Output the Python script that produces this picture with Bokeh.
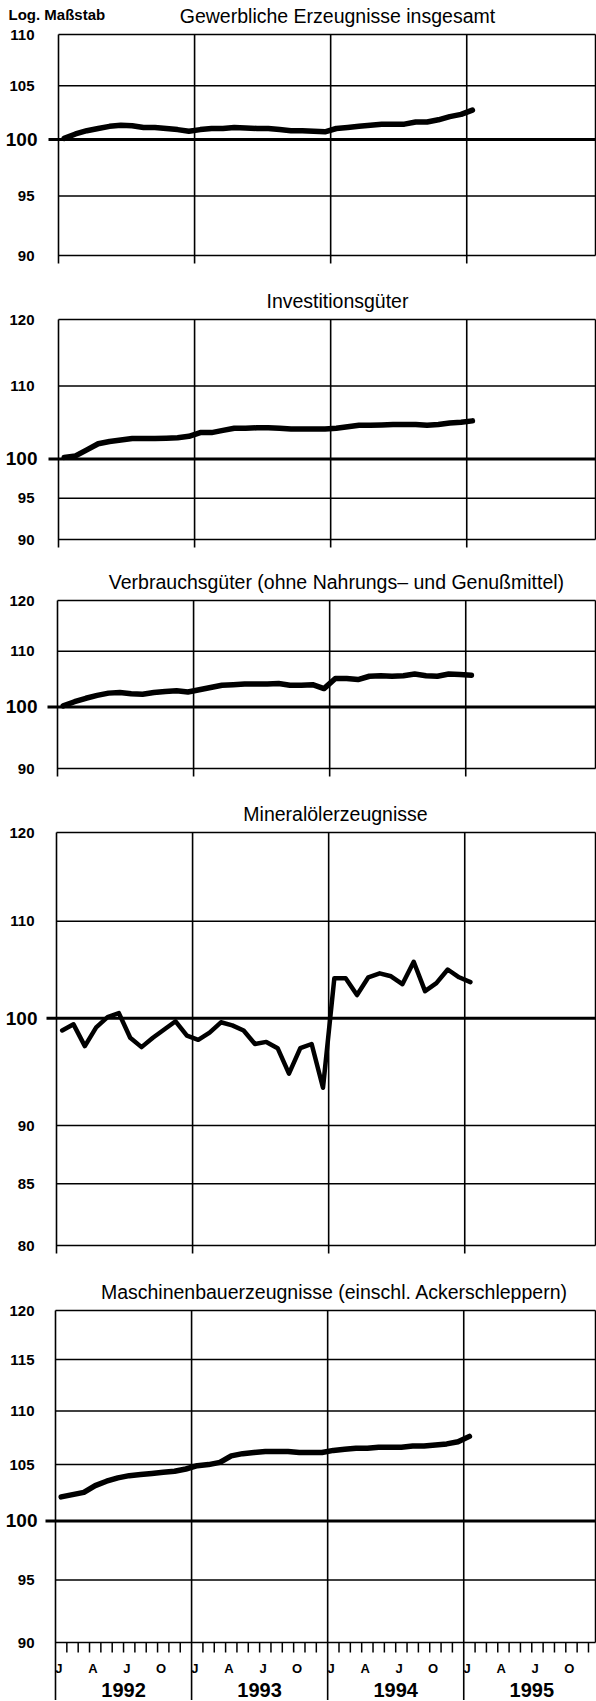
import math
from bokeh.plotting import figure
from bokeh.layouts import column
from bokeh.embed import file_html
from bokeh.resources import INLINE
from bokeh.core.properties import value

FONT = "Liberation Sans"

# ---- data: monthly index values, Jan 1992 .. Jan 1995 ----
months = [f"{m:02d}.{y}" for y in (1992, 1993, 1994) for m in range(1, 13)] + ["01.1995"]

gewerbliche = [100.1, 100.5, 100.8, 101.0, 101.2, 101.3, 101.25, 101.1, 101.1, 101.0, 100.9, 100.75,
               100.9, 101.0, 101.0, 101.1, 101.05, 101.0, 101.0, 100.9, 100.8, 100.8, 100.75, 100.7,
               101.0, 101.1, 101.2, 101.3, 101.4, 101.4, 101.4, 101.6, 101.6, 101.8, 102.1, 102.3, 102.7]
investition = [100.2, 100.4, 101.2, 102.0, 102.3, 102.5, 102.7, 102.7, 102.7, 102.75, 102.8, 103.0,
               103.5, 103.5, 103.8, 104.1, 104.1, 104.15, 104.15, 104.1, 104.0, 104.0, 104.0, 104.0,
               104.1, 104.3, 104.5, 104.5, 104.55, 104.6, 104.6, 104.6, 104.5, 104.6, 104.8, 104.9, 105.1]
verbrauch = [100.2, 100.9, 101.5, 102.0, 102.4, 102.5, 102.3, 102.2, 102.5, 102.7, 102.8, 102.6,
             103.0, 103.4, 103.8, 103.9, 104.0, 104.0, 104.0, 104.1, 103.8, 103.8, 103.9, 103.2,
             105.0, 105.0, 104.8, 105.4, 105.5, 105.4, 105.5, 105.8, 105.5, 105.4, 105.8, 105.7, 105.6]
mineraloel = [98.8, 99.4, 97.3, 99.1, 100.1, 100.5, 98.1, 97.2, 98.1, 98.9, 99.7, 98.3,
              97.9, 98.6, 99.6, 99.3, 98.8, 97.5, 97.7, 97.1, 94.7, 97.1, 97.5, 93.4,
              104.0, 104.0, 102.3, 104.1, 104.5, 104.2, 103.4, 105.7, 102.7, 103.5, 104.9, 104.1, 103.6]
maschinen = [102.1, 102.3, 102.5, 103.1, 103.5, 103.8, 104.0, 104.1, 104.2, 104.3, 104.4, 104.6,
             104.9, 105.0, 105.2, 105.8, 106.0, 106.1, 106.2, 106.2, 106.2, 106.1, 106.1, 106.1,
             106.3, 106.4, 106.5, 106.5, 106.6, 106.6, 106.6, 106.7, 106.7, 106.8, 106.9, 107.1, 107.6]

titles = ["Gewerbliche Erzeugnisse insgesamt",
          "Investitionsgüter",
          "Verbrauchsgüter (ohne Nahrungs\u2013 und Genußmittel)",
          "Mineralölerzeugnisse",
          "Maschinenbauerzeugnisse (einschl. Ackerschleppern)"]

ticks_1 = [110, 105, 100, 95, 90]
ticks_2 = [120, 110, 100, 95, 90]
ticks_3 = [120, 110, 100, 90]
ticks_4 = [120, 110, 100, 90, 85, 80]
ticks_5 = [120, 115, 110, 105, 100, 95, 90]

years = ["1992", "1993", "1994", "1995"]
month_letters = ["J", "A", "J", "O"]

W = 596          # figure width
PXM = 11.34      # pixels per month
xs = [i + 0.5 for i in range(len(months))]   # mid-month positions


def make_panel(title, vals, ticks, H, T, fh, L, lw, last=False, first=False):
    R = 595                               # frame right inside the canvas
    xr = (R - L) / PXM                    # frame right in months
    ylo, yhi = min(ticks), max(ticks)
    lhi, llo = math.log10(yhi), math.log10(ylo)
    ppd = fh / (lhi - llo)                # pixels per decade

    def y_at(px):                         # data value at canvas pixel row px
        return 10 ** (lhi - (px - T) / ppd)

    def x_at(px):
        return (px - L) / PXM

    p = figure(width=W, height=H,
               x_range=(x_at(0), x_at(W)), y_range=(y_at(H), y_at(0)),
               y_axis_type="log", x_axis_location=None, y_axis_location=None,
               output_backend="svg", toolbar_location=None, title=None,
               min_border=0, min_border_left=0, min_border_right=0,
               min_border_top=0, min_border_bottom=0)
    p.grid.visible = False
    p.outline_line_color = None
    p.background_fill_color = "white"
    p.border_fill_color = "white"

    B = T + fh
    # horizontal grid lines (top/bottom = frame)
    others = [t for t in ticks if t != 100]
    p.segment(x0=[0] * len(others), x1=[xr] * len(others), y0=others, y1=others,
              line_color="black", line_width=1.5)
    # 100 base line, reaching out to the left
    p.segment(x0=[x_at(L - 10)], x1=[xr], y0=[100], y1=[100],
              line_color="black", line_width=3)
    # year lines, left and right frame edges
    bottom_ext = y_at(H) if last else y_at(B + 8)
    yl = [0, 12, 24, 36]
    p.segment(x0=yl, x1=yl, y0=[bottom_ext] * 4, y1=[yhi] * 4,
              line_color="black", line_width=1.6)
    p.segment(x0=[xr], x1=[xr], y0=[ylo], y1=[yhi], line_color="black", line_width=1.5)

    if last:
        mt = [m for m in range(1, 48) if m % 12 != 0]
        p.segment(x0=mt, x1=mt, y0=[ylo] * len(mt), y1=[y_at(B + 10)] * len(mt),
                  line_color="black", line_width=1.5)

    p.line(xs, vals, line_width=lw, line_color="black", line_join="round", line_cap="round")

    # y tick labels
    small = [t for t in ticks if t != 100]
    p.text(x=[x_at(34)] * len(small), y=small, text=[str(t) for t in small],
           text_align="right", text_baseline="middle", text_font=value(FONT),
           text_font_size="15px", text_font_style="bold", text_color="black")
    p.text(x=[x_at(37)], y=[100], text=["100"], text_align="right", text_baseline="middle",
           text_font=value(FONT), text_font_size="19px", text_font_style="bold",
           text_color="black")

    # title
    p.text(x=[24.6], y=[y_at(T - 19)], text=[title], text_align="center",
           text_baseline="middle", text_font=value(FONT), text_font_size="19.5px",
           text_color="black")
    if first:
        p.text(x=[x_at(8)], y=[y_at(T - 20)], text=["Log. Maßstab"], text_align="left",
               text_baseline="middle", text_font=value(FONT), text_font_size="15px",
               text_font_style="bold", text_color="black")

    if last:
        mx, mtxt, yx = [], [], []
        for k in range(len(years)):
            for j, letter in enumerate(month_letters):
                mx.append(k * 12 + j * 3 + 0.3)
                mtxt.append(letter)
            yx.append(k * 12 + 6)
        p.text(x=mx, y=[y_at(B + 26)] * len(mx), text=mtxt, text_align="center",
               text_baseline="middle", text_font=value(FONT), text_font_size="13px",
               text_font_style="bold", text_color="black")
        p.text(x=yx, y=[y_at(B + 47)] * len(yx), text=years, text_align="center",
               text_baseline="middle", text_font=value(FONT), text_font_size="20px",
               text_font_style="bold", text_color="black")
    return p


p1 = make_panel(titles[0], gewerbliche, ticks_1, 270, 34, 221, 58, 5.5, first=True)
p2 = make_panel(titles[1], investition, ticks_2, 282, 49, 220, 58, 5.5)
p3 = make_panel(titles[2], verbrauch, ticks_3, 230, 48, 168, 57, 5.5)
p4 = make_panel(titles[3], mineraloel, ticks_4, 476, 50, 413, 56, 4.5)
p5 = make_panel(titles[4], maschinen, ticks_5, 442, 52, 332, 55, 5.5, last=True)

layout = column(p1, p2, p3, p4, p5, spacing=0)
open("out.html", "w").write(file_html(layout, INLINE))
